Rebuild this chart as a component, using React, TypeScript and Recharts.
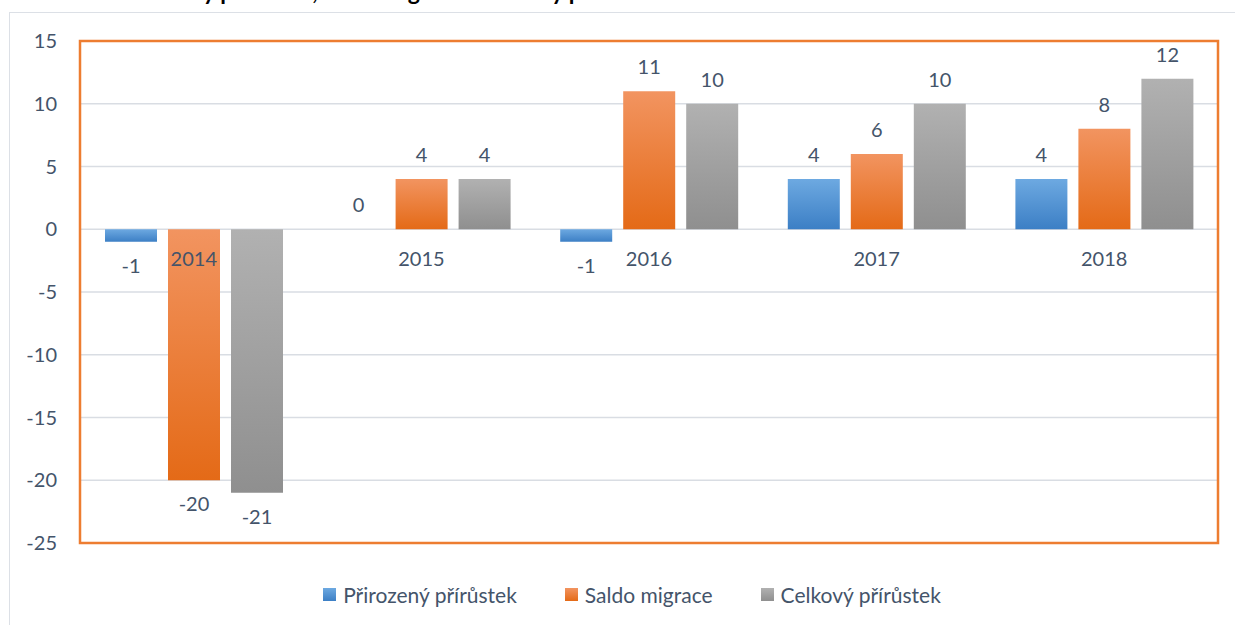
import React from 'react';
import { BarChart, Bar, XAxis, YAxis, CartesianGrid, Legend, LabelList, ReferenceArea } from 'recharts';

const years = ['2014', '2015', '2016', '2017', '2018'];
const prirozenyPrirustek = [-1, 0, -1, 4, 4];
const saldoMigrace = [-20, 4, 11, 6, 8];
const celkovyPrirustek = [-21, 4, 10, 10, 12];
const yTicks = [15, 10, 5, 0, -5, -10, -15, -20, -25];

const SERIES = [
    { key: 'prirozeny', name: 'Přirozený přírůstek', grad: 'gradBlue', top: '#6DA9E1', bottom: '#3C7FC5' },
    { key: 'saldo', name: 'Saldo migrace', grad: 'gradOrange', top: '#F29460', bottom: '#E46A17' },
    { key: 'celkovy', name: 'Celkový přírůstek', grad: 'gradGrey', top: '#B1B1B1', bottom: '#8F8F8F' },
];

const data = years.map((year, i) => ({
    year,
    prirozeny: prirozenyPrirustek[i],
    saldo: saldoMigrace[i],
    celkovy: celkovyPrirustek[i],
}));

const W = 1235;
const H = 625;
const MARGIN = { top: 41, right: 17, left: 0, bottom: 16 };
const LEGEND_H = 30;
const XAXIS_H = 36;
const PLOT_H = H - MARGIN.top - MARGIN.bottom - LEGEND_H - XAXIS_H;
const FONT = 'Lato, "Open Sans", sans-serif';
const TEXT = '#44546A';

// year labels sit just under the zero line, not at the bottom of the plot
const YearTick = (props: any) => {
    const { x, y, payload } = props;
    const zeroY = y - (PLOT_H * 25) / 40;
    return (
        <text x={x} y={zeroY + 32} textAnchor="middle" dominantBaseline="middle" fill={TEXT} fontSize={20} fontFamily={FONT}>
            {payload.value}
        </text>
    );
};

const LegendContent = () => (
    <div style={{ display: 'flex', justifyContent: 'center', gap: 48, fontFamily: FONT, fontSize: 21, color: TEXT, height: LEGEND_H, alignItems: 'center', paddingLeft: 46 }}>
        {SERIES.map(s => (
            <div key={s.key} style={{ display: 'flex', alignItems: 'center' }}>
                <span style={{ width: 13, height: 13, marginRight: 7, background: `linear-gradient(${s.top}, ${s.bottom})` }} />
                {s.name}
            </div>
        ))}
    </div>
);

export default function App() {
    return (
        <div style={{ position: 'absolute', left: 0, top: 0, width: W, height: H, overflow: 'hidden', background: '#fff' }}>
            <div style={{ position: 'absolute', left: 9, top: 12, width: 1300, height: 700, border: '1px solid #DCE0E6' }} />
            <div style={{ position: 'absolute', left: 118, top: -23, fontFamily: FONT, fontWeight: 700, fontSize: 23, whiteSpace: 'nowrap', color: '#000', lineHeight: '28px' }}>
                Přirozený přírůstek, saldo migrace a celkový přírůstek
            </div>
            <div style={{ position: 'absolute', left: 0, top: 0 }}>
                <BarChart width={W} height={H} data={data} margin={MARGIN} barSize={52} barGap={11}>
                    <defs>
                        {SERIES.map(s => (
                            <linearGradient key={s.grad} id={s.grad} x1="0" y1="0" x2="0" y2="1">
                                <stop offset="0%" stopColor={s.top} />
                                <stop offset="100%" stopColor={s.bottom} />
                            </linearGradient>
                        ))}
                    </defs>
                    <CartesianGrid vertical={false} stroke="#D9DDE3" strokeWidth={1.5} />
                    <XAxis
                        dataKey="year"
                        height={XAXIS_H}
                        axisLine={false}
                        tickLine={false}
                        tickSize={0}
                        tickMargin={0}
                        tick={<YearTick />}
                        interval={0}
                    />
                    <YAxis
                        width={80}
                        domain={[-25, 15]}
                        ticks={yTicks}
                        axisLine={false}
                        tickLine={false}
                        tickSize={0}
                        tickMargin={23}
                        tick={{ fill: TEXT, fontSize: 20, fontFamily: FONT }}
                    />
                    <Legend verticalAlign="bottom" height={LEGEND_H} content={<LegendContent />} />
                    {SERIES.map(s => (
                        <Bar key={s.key} dataKey={s.key} name={s.name} fill={`url(#${s.grad})`} minPointSize={0.01} isAnimationActive={false}>
                            <LabelList dataKey={s.key} position="top" offset={17} fill={TEXT} fontSize={20} fontFamily={FONT} />
                        </Bar>
                    ))}
                    <ReferenceArea y1={-25} y2={15} fill="none" stroke="#ED7D31" strokeWidth={2.5} fillOpacity={0} ifOverflow="visible" />
                </BarChart>
            </div>
        </div>
    );
}
